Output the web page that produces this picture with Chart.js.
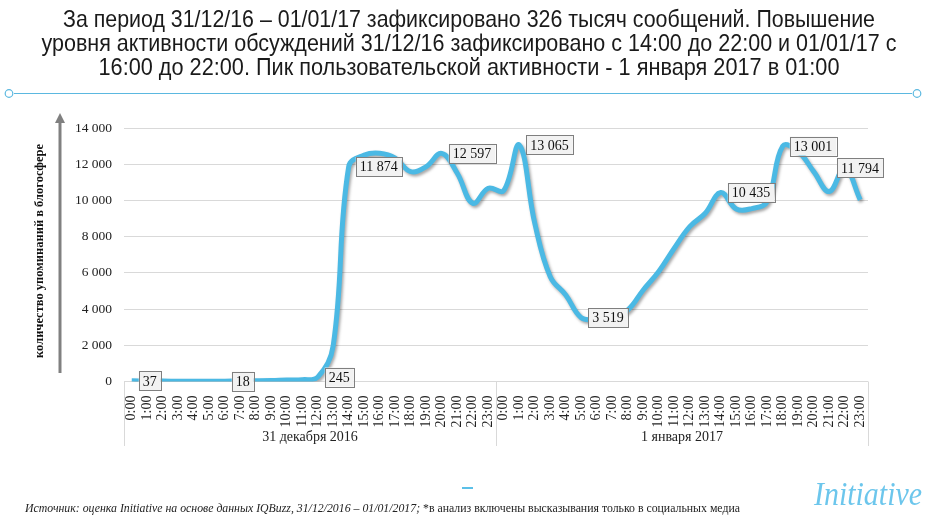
<!DOCTYPE html>
<html>
<head>
<meta charset="utf-8">
<script src="https://cdn.jsdelivr.net/npm/chart.js@4.4.1/dist/chart.umd.min.js"></script>
<style>
  html, body { margin: 0; padding: 0; background: #fff; }
</style>
</head>
<body>
<canvas id="myChart" width="935" height="523"></canvas>
<script>
// hour labels, repeated for each day
const hours = ['0:00', '1:00', '2:00', '3:00', '4:00', '5:00', '6:00', '7:00', '8:00', '9:00', '10:00', '11:00',
    '12:00', '13:00', '14:00', '15:00', '16:00', '17:00', '18:00', '19:00', '20:00', '21:00', '22:00', '23:00'];
const days = ['31 декабря 2016', '1 января 2017'];
const categories = hours.concat(hours);

// mentions per hour: 31.12.2016 then 01.01.2017
const dec31 = [37, 30, 22, 15, 10, 12, 18, 25, 35, 50, 80, 100,
    245, 2000, 11874, 12500, 12600, 12330, 11590, 11870, 12597, 11500, 9845, 10670];
const jan01 = [10550, 13065, 8740, 5790, 4780, 3519, 3450, 3600, 3950, 5055, 6070, 7360,
    8550, 9290, 10435, 9530, 9550, 9935, 13001, 12700, 11590, 10490, 11794, 10030];
const mentions = dec31.concat(jan01);

// points that carry a value label
const labelledIdx = [0, 6, 12, 14, 20, 25, 29, 38, 42, 46];

const titleLines = [
    'За период 31/12/16 – 01/01/17 зафиксировано 326 тысяч сообщений. Повышение',
    'уровня активности обсуждений 31/12/16 зафиксировано с 14:00 до 22:00 и 01/01/17 с',
    '16:00 до 22:00. Пик пользовательской активности - 1 января 2017 в 01:00'
];
const yTitle = 'количество упоминаний в блогосфере';
const source1 = 'Источник: оценка Initiative на основе данных IQBuzz, 31/12/2016 – 01/01/2017; ';
const source2 = '*в анализ включены высказывания только в социальных медиа';

const fmt = (v) => v.toLocaleString('ru-RU');
const blue = '#4bb9e4';

// draws text squeezed to a given width (the original uses a narrow face)
const fitText = (ctx, text, x, y, width, align) => {
    const w = ctx.measureText(text).width;
    const k = Math.min(1, width / w);
    ctx.save();
    ctx.translate(x, y);
    ctx.scale(k, 1);
    ctx.textAlign = align;
    ctx.fillText(text, 0, 0);
    ctx.restore();
    return w * k;
};

const decorations = {
    id: 'decorations',
    beforeDatasetDraw(chart) {
        const ctx = chart.ctx;
        ctx.save();
        ctx.shadowColor = 'rgba(0,0,0,0.35)';
        ctx.shadowBlur = 3;
        ctx.shadowOffsetX = 1.5;
        ctx.shadowOffsetY = 2;
    },
    afterDatasetDraw(chart) {
        chart.ctx.restore();
    },
    afterDraw(chart) {
        const ctx = chart.ctx;
        const area = chart.chartArea;
        const x = chart.scales.x;

        // title
        ctx.fillStyle = '#1a1a1a';
        ctx.font = '24px "Liberation Sans", Arial, sans-serif';
        ctx.textBaseline = 'alphabetic';
        const widths = [812, 855, 741];
        titleLines.forEach((t, i) => fitText(ctx, t, 469, 27 + i * 24, widths[i], 'center'));

        // thin rule under the title
        ctx.strokeStyle = '#5bb8e0';
        ctx.lineWidth = 1.2;
        ctx.beginPath();
        ctx.moveTo(14, 93.5);
        ctx.lineTo(912, 93.5);
        ctx.stroke();
        [9, 917].forEach((cx) => {
            ctx.beginPath();
            ctx.arc(cx, 93.5, 3.8, 0, Math.PI * 2);
            ctx.stroke();
        });

        // y-axis arrow and title
        ctx.strokeStyle = '#808080';
        ctx.fillStyle = '#808080';
        ctx.lineWidth = 3;
        ctx.beginPath();
        ctx.moveTo(60, 373);
        ctx.lineTo(60, 121);
        ctx.stroke();
        ctx.beginPath();
        ctx.moveTo(60, 113);
        ctx.lineTo(55, 123);
        ctx.lineTo(65, 123);
        ctx.closePath();
        ctx.fill();

        ctx.save();
        ctx.translate(40, 251);
        ctx.rotate(-Math.PI / 2);
        ctx.fillStyle = '#111';
        ctx.font = 'bold 12.5px "Liberation Serif", "Times New Roman", serif';
        ctx.textBaseline = 'middle';
        fitText(ctx, yTitle, 0, 0, 227, 'center');
        ctx.restore();

        // day groups under the hour labels
        const bounds = [area.left, (x.getPixelForValue(23) + x.getPixelForValue(24)) / 2, area.right];
        ctx.strokeStyle = '#d9d9d9';
        ctx.lineWidth = 1;
        bounds.forEach((bx) => {
            ctx.beginPath();
            ctx.moveTo(Math.round(bx) + 0.5, area.bottom);
            ctx.lineTo(Math.round(bx) + 0.5, 446);
            ctx.stroke();
        });
        ctx.fillStyle = '#222';
        ctx.font = '14px "Liberation Serif", "Times New Roman", serif';
        ctx.textAlign = 'center';
        ctx.textBaseline = 'middle';
        days.forEach((d, i) => ctx.fillText(d, (bounds[i] + bounds[i + 1]) / 2, 437));

        // value labels
        const meta = chart.getDatasetMeta(0);
        ctx.font = '14px "Liberation Serif", "Times New Roman", serif';
        labelledIdx.forEach((i) => {
            const p = meta.data[i];
            const text = fmt(mentions[i]);
            const w = ctx.measureText(text).width + 8;
            const h = 19;
            let left = p.x + 7;
            if (left + w > area.right + 15) left = area.right + 15 - w;
            const top = p.y - h / 2;
            ctx.fillStyle = '#f2f2f2';
            ctx.fillRect(left, top, w, h);
            ctx.strokeStyle = '#7f7f7f';
            ctx.lineWidth = 1;
            ctx.strokeRect(Math.round(left) + 0.5, Math.round(top) + 0.5, Math.round(w), h);
            ctx.fillStyle = '#111';
            ctx.textAlign = 'left';
            ctx.textBaseline = 'middle';
            ctx.fillText(text, left + 4, p.y + 1);
        });

        // footer
        ctx.fillStyle = '#222';
        ctx.textAlign = 'left';
        ctx.textBaseline = 'alphabetic';
        ctx.font = 'italic 12.5px "Liberation Serif", "Times New Roman", serif';
        const w1 = ctx.measureText(source1).width;
        ctx.font = '12.5px "Liberation Serif", "Times New Roman", serif';
        const w2 = ctx.measureText(source2).width;
        const k = 715 / (w1 + w2);
        ctx.save();
        ctx.translate(25, 512);
        ctx.scale(k, 1);
        ctx.font = 'italic 12.5px "Liberation Serif", "Times New Roman", serif';
        ctx.fillText(source1, 0, 0);
        ctx.font = '12.5px "Liberation Serif", "Times New Roman", serif';
        ctx.fillText(source2, w1, 0);
        ctx.restore();

        ctx.strokeStyle = '#5bc0e8';
        ctx.lineWidth = 2;
        ctx.beginPath();
        ctx.moveTo(462, 488);
        ctx.lineTo(473, 488);
        ctx.stroke();

        // logo
        ctx.fillStyle = '#6cc6ec';
        ctx.font = 'italic 34px "Liberation Serif", "Times New Roman", serif';
        fitText(ctx, 'Initiative', 868, 505, 108, 'center');
    }
};

const chart = new Chart(document.getElementById('myChart'), {
    type: 'line',
    data: {
        labels: categories,
        datasets: [{
            data: mentions,
            borderColor: blue,
            borderWidth: 5,
            pointRadius: 0,
            tension: 0.4,
            fill: false
        }]
    },
    options: {
        responsive: false,
        animation: false,
        devicePixelRatio: 1,
        layout: { padding: { top: 128, right: 67, bottom: 0, left: 0 } },
        plugins: { legend: { display: false }, tooltip: { enabled: false } },
        scales: {
            x: {
                offset: true,
                grid: { display: false },
                border: { display: false },
                ticks: {
                    autoSkip: false,
                    maxRotation: 90,
                    minRotation: 90,
                    padding: 6,
                    color: '#222',
                    font: { family: '"Liberation Serif", "Times New Roman", serif', size: 14 }
                },
                afterFit: (s) => { s.height = 141.5; }
            },
            y: {
                min: 0,
                max: 14000,
                ticks: {
                    stepSize: 2000,
                    padding: 12,
                    color: '#222',
                    font: { family: '"Liberation Serif", "Times New Roman", serif', size: 13.5 },
                    callback: (v) => fmt(v)
                },
                grid: { color: '#d9d9d9', drawTicks: false },
                border: { display: false },
                afterFit: (s) => { s.width = 124; }
            }
        }
    },
    plugins: [decorations]
});
</script>
</body>
</html>
